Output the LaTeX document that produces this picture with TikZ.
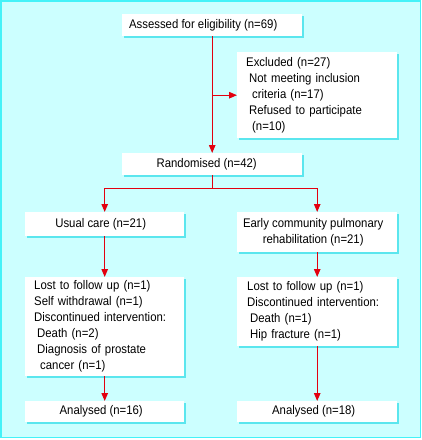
\documentclass[tikz,border=0pt]{standalone}
\usepackage{fontspec}
\newfontfamily\diagfont[FakeStretch=0.91]{Liberation Sans}
\usetikzlibrary{arrows.meta,shadows}
\definecolor{bgc}{HTML}{CCFFFF}
\definecolor{framec}{HTML}{44F2F8}
\definecolor{shadc}{HTML}{5BE6EE}
\definecolor{redc}{HTML}{E3000F}
\begin{document}
\begin{tikzpicture}[x=1pt,y=-1pt,
  box/.style={fill=white, draw=none, anchor=north west, inner xsep=0pt, inner ysep=0pt,
    font=\diagfont\fontsize{12.5pt}{16pt}\selectfont,
    drop shadow={shadow xshift=1.6pt, shadow yshift=-1.6pt, fill=shadc, opacity=1}},
  lbox/.style={box, align=left, inner xsep=9pt},
  arr/.style={draw=redc, line width=1.1pt, -{Triangle[length=8pt,width=6.5pt]}},
  ln/.style={draw=redc, line width=1.1pt}]
\useasboundingbox (0,0) rectangle (422,440);
\fill[white] (0,0) rectangle (422,440);
\fill[bgc] (0.8,0.8) rectangle (420.4,437.4);
\draw[framec, line width=1.6pt] (0.8,0.8) rectangle (420.4,437.4);

\node[box, minimum width=180pt, minimum height=22pt] (assess) at (122,14) {Assessed for eligibility (n=69)\kern18pt};
\node[lbox, text width=142pt, minimum height=86pt] (excl) at (237,52)
  {Excluded (n=27)\\
   \hspace*{3pt}Not meeting inclusion\\
   \hspace*{6pt}criteria (n=17)\\
   \hspace*{3pt}Refused to participate\\
   \hspace*{6pt}(n=10)};
\node[box, minimum width=180pt, minimum height=22pt] (rand) at (122,153) {Randomised (n=42)\kern11pt};
\node[box, minimum width=159pt, minimum height=24pt] (usual) at (25,212) {Usual care (n=21)\kern8pt};
\node[box, align=center, minimum width=160pt, minimum height=40pt] (early) at (237,212)
  {Early community pulmonary\kern8pt\\ rehabilitation (n=21)\kern8pt};
\node[lbox, text width=141pt, minimum height=99pt] (lostL) at (25,277)
  {Lost to follow up (n=1)\\
   Self withdrawal (n=1)\\
   Discontinued intervention:\\
   \hspace*{3pt}Death (n=2)\\
   \hspace*{3pt}Diagnosis of prostate\\
   \hspace*{6pt}cancer (n=1)};
\node[lbox, inner xsep=10pt, text width=140pt, minimum height=69pt] (lostR) at (237,277)
  {Lost to follow up (n=1)\\
   Discontinued intervention:\\
   \hspace*{3pt}Death (n=1)\\
   \hspace*{3pt}Hip fracture (n=1)};
\node[box, minimum width=159pt, minimum height=21pt] (anL) at (25,401) {Analysed (n=16)\kern7pt};
\node[box, minimum width=160pt, minimum height=21pt] (anR) at (237,401) {Analysed (n=18)\kern7pt};

\coordinate (j1) at (assess.south |- excl.west);
\coordinate (j2) at ([yshift=-13pt]rand.south);
\draw[arr] (assess.south) -- (rand.north);
\draw[arr] (j1) -- (excl.west);
\draw[ln] (rand.south) -- (j2);
\draw[arr] (j2) -| (usual.north);
\draw[arr] (j2) -| (early.north);
\draw[arr] (usual.south) -- (lostL.north);
\draw[arr] (early.south) -- (lostR.north);
\draw[arr] (lostL.south) -- (anL.north);
\draw[arr] (lostR.south) -- (anR.north);
\end{tikzpicture}
\end{document}
